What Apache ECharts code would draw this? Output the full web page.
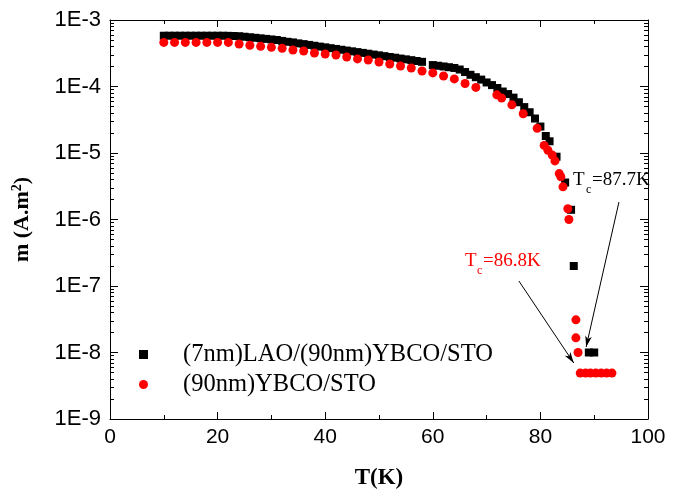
<!DOCTYPE html>
<html><head><meta charset="utf-8">
<script src="https://cdn.jsdelivr.net/npm/echarts@6/dist/echarts.min.js"></script>
<style>html,body{margin:0;padding:0;background:#fff}#c{width:673px;height:497px}</style>
</head><body><div id="c"></div>
<script>
// ---- data ----
const seriesNames = ['(7nm)LAO/(90nm)YBCO/STO', '(90nm)YBCO/STO'];
const xTickValues = [0, 20, 40, 60, 80, 100];
const yTickLabels = ['1E-9', '1E-8', '1E-7', '1E-6', '1E-5', '1E-4', '1E-3'];

const blackT = [10,11,12,13,14,15,16,17,18,19,20,21,22,23,24,25,26,27,28,29,30,31,32,33,34,35,36,37,38,39,40,41,42,43,44,45,46,47,48,49,50,51,52,53,54,55,56,57,58,
  60,61,62,63,64,65,66,67,68,69,70,71,72,73,74,75,76,77,78,79,80,81,81.7,83.0,84.6,85.7,86.2,89.0,90.0];
const blackM = [5.8e-4,5.8e-4,5.8e-4,5.8e-4,5.8e-4,5.8e-4,5.8e-4,5.8e-4,5.8e-4,5.8e-4,5.8e-4,5.8e-4,5.78e-4,5.75e-4,
  5.7e-4,5.6e-4,5.5e-4,5.4e-4,5.3e-4,5.2e-4,5.1e-4,5.0e-4,4.85e-4,4.7e-4,4.6e-4,4.45e-4,4.34e-4,4.22e-4,4.1e-4,3.98e-4,
  3.88e-4,3.77e-4,3.67e-4,3.57e-4,3.47e-4,3.38e-4,3.29e-4,3.2e-4,3.11e-4,3.02e-4,2.94e-4,2.86e-4,2.78e-4,2.71e-4,2.63e-4,
  2.56e-4,2.49e-4,2.42e-4,2.35e-4,
  2.1e-4,2.05e-4,2.0e-4,1.95e-4,1.9e-4,1.8e-4,1.65e-4,1.5e-4,1.38e-4,1.27e-4,1.15e-4,1.05e-4,9.5e-5,8.4e-5,7.7e-5,6.8e-5,
  5.8e-5,4.9e-5,4.1e-5,3.3e-5,2.5e-5,1.8e-5,1.5e-5,8.8e-6,3.6e-6,1.4e-6,2.0e-7,1.0e-8,1.0e-8];

const redT = [10,12,14,16,18,20,22,24,26,28,30,32,34,36,38,40,42,44,46,48,50,52,54,56,58,60,62,64,66,68,
  71.9,72.8,74.7,76.8,79.4,80.7,81.4,82.2,82.7,83.5,83.8,84.2,85.1,85.3,86.6,86.6,87.0,
  87.4,88.4,89.3,90.3,91.3,92.3,93.3];
const redM = [4.6e-4,4.6e-4,4.6e-4,4.6e-4,4.6e-4,4.6e-4,4.6e-4,4.35e-4,4.17e-4,4.02e-4,3.88e-4,3.75e-4,3.54e-4,3.42e-4,
  3.19e-4,3.08e-4,2.98e-4,2.78e-4,2.6e-4,2.5e-4,2.34e-4,2.18e-4,2.03e-4,1.9e-4,1.71e-4,1.6e-4,1.44e-4,1.3e-4,1.11e-4,9.7e-5,
  7.5e-5,6.7e-5,5.3e-5,3.9e-5,2.35e-5,1.3e-5,1.1e-5,9.3e-6,7.6e-6,4.9e-6,4.4e-6,3.1e-6,1.45e-6,1.0e-6,3.1e-8,1.66e-8,1.0e-8,
  4.9e-9,4.9e-9,4.9e-9,4.9e-9,4.9e-9,4.9e-9,4.9e-9];

// annotation arrows (data space)
const arrowBlack = [[94.6, 1.83e-6], [88.5, 1.21e-8]];
const arrowRed = [[76.0, 1.19e-7], [86.2, 6.95e-9]];

// ---- build ----
const majorY = [];
for (let e = -9; e <= -3; e++) majorY.push(Math.pow(10, e));
const minorY = [];
for (let e = -9; e <= -4; e++) for (let k = 2; k <= 9; k++) minorY.push(k * Math.pow(10, e));

const SERIF = '"Liberation Serif","Times New Roman",serif';
const SANS = 'Arial,"Liberation Sans",sans-serif';

const chart = echarts.init(document.getElementById('c'), null, {renderer: 'canvas'});

function xAxisCfg(pos, labels) {
  return {
    type: 'value', position: pos, min: 0, max: 100, interval: 20,
    axisLine: {show: true, onZero: false, lineStyle: {color: '#000', width: 1}},
    axisTick: {show: true, inside: true, length: 7, lineStyle: {color: '#000'}},
    minorTick: {show: true, splitNumber: 2, length: 4, lineStyle: {color: '#000'}},
    splitLine: {show: false},
    axisLabel: {show: labels, color: '#000', fontFamily: SANS, fontSize: 21, margin: 8},
    name: labels ? 'T(K)' : '', nameLocation: 'middle', nameGap: 48,
    nameTextStyle: {fontFamily: SERIF, fontWeight: 'bold', fontSize: 23, color: '#000'}
  };
}
function yAxisCfg(pos, labels, line, ticks, len) {
  return {
    type: 'log', logBase: 10, position: pos, min: 1e-9, max: 1e-3,
    axisLine: {show: line, onZero: false, lineStyle: {color: '#000', width: 1}},
    axisTick: {show: true, inside: true, length: len, customValues: ticks, lineStyle: {color: '#000', width: 1}},
    splitLine: {show: false},
    axisLabel: {show: labels, customValues: labels ? majorY : undefined, color: '#000', fontFamily: SANS, fontSize: 22, margin: 9,
      formatter: v => yTickLabels[Math.round(Math.log10(v)) + 9]},
    name: labels ? '{a|m (A.m}{s|2}{a|)}' : '', nameLocation: 'middle', nameGap: 76, nameRotate: 90,
    nameTextStyle: {rich: {
      a: {fontFamily: SERIF, fontWeight: 'bold', fontSize: 22, color: '#000', lineHeight: 24},
      s: {fontFamily: SERIF, fontWeight: 'bold', fontSize: 14, color: '#000', lineHeight: 24, verticalAlign: 'top', padding: [0, 0, 8, 0]}
    }}
  };
}

const option = {
  animation: false,
  backgroundColor: '#fff',
  grid: {left: 110, right: 25, top: 20, bottom: 78, containLabel: false},
  xAxis: [xAxisCfg('bottom', true), xAxisCfg('top', false)],
  yAxis: [
    yAxisCfg('left', true, true, majorY, 8),
    yAxisCfg('right', false, true, majorY, 8),
    yAxisCfg('left', false, false, minorY, 4),
    yAxisCfg('right', false, false, minorY, 4)
  ],
  legend: {
    orient: 'vertical', left: 139, top: 342, padding: 0, itemGap: 5,
    itemWidth: 9, itemHeight: 9,
    data: seriesNames,
    itemStyle: {opacity: 1},
    textStyle: {fontFamily: SERIF, fontSize: 24.5, color: '#000', lineHeight: 24, padding: [0, 0, 0, 30]}
  },
  series: [
    {
      name: seriesNames[0], type: 'scatter', xAxisIndex: 0, yAxisIndex: 0,
      symbol: 'rect', symbolSize: 8, itemStyle: {color: '#000', opacity: 1},
      data: blackT.map((t, i) => [t, blackM[i]]),
      markLine: {
        silent: true, symbol: ['none', 'arrow'], symbolSize: [5, 11],
        lineStyle: {color: '#000', width: 1, type: 'solid'}, label: {show: false},
        data: [[{coord: arrowBlack[0]}, {coord: arrowBlack[1]}]]
      }
    },
    {
      name: seriesNames[1], type: 'scatter', xAxisIndex: 0, yAxisIndex: 0,
      symbol: 'circle', symbolSize: 9, itemStyle: {color: '#ff0000', opacity: 1},
      data: redT.map((t, i) => [t, redM[i]]),
      markLine: {
        silent: true, symbol: ['none', 'arrow'], symbolSize: [5, 11],
        lineStyle: {color: '#000', width: 1, type: 'solid'}, label: {show: false},
        data: [[{coord: arrowRed[0]}, {coord: arrowRed[1]}]]
      }
    }
  ],
  graphic: [
    {type: 'text', left: 573, top: 171, style: {text: 'T', font: '19px ' + SERIF, fill: '#000'}},
    {type: 'text', left: 586, top: 184, style: {text: 'c', font: '12px ' + SERIF, fill: '#000'}},
    {type: 'text', left: 592, top: 171, style: {text: '=87.7K', font: '19px ' + SERIF, fill: '#000'}},
    {type: 'text', left: 465, top: 252, style: {text: 'T', font: '19px ' + SERIF, fill: '#ff0000'}},
    {type: 'text', left: 477, top: 265, style: {text: 'c', font: '12px ' + SERIF, fill: '#ff0000'}},
    {type: 'text', left: 483, top: 252, style: {text: '=86.8K', font: '19px ' + SERIF, fill: '#ff0000'}}
  ]
};
chart.setOption(option);
</script>
</body></html>
